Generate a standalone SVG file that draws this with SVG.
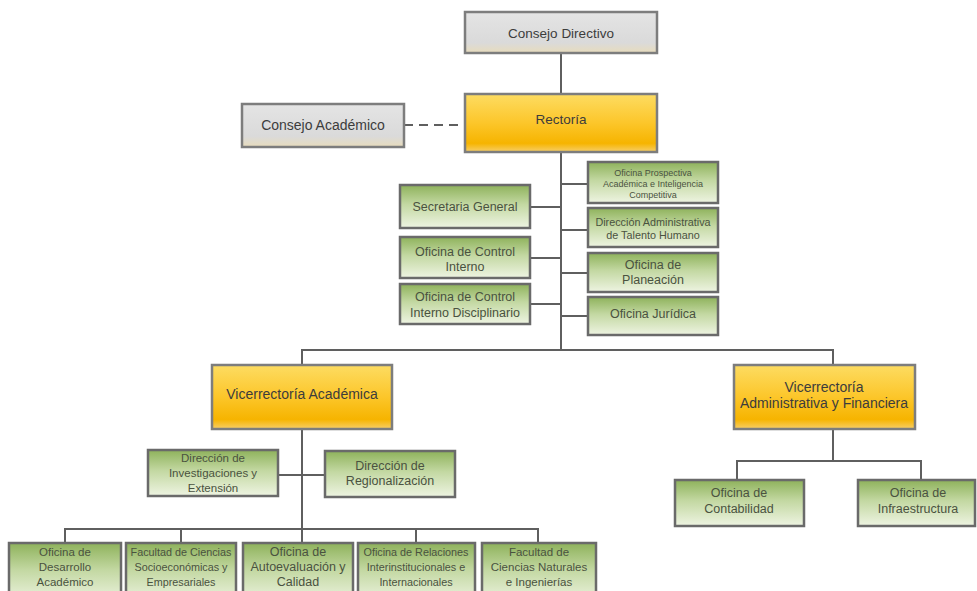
<svg xmlns="http://www.w3.org/2000/svg" width="977" height="591" viewBox="0 0 977 591">
<defs>
<linearGradient id="gGray" x1="0" y1="0" x2="0" y2="1">
<stop offset="0" stop-color="#e4e4e4"/><stop offset="0.75" stop-color="#dadada"/><stop offset="1" stop-color="#e8dcbc"/>
</linearGradient>
<linearGradient id="gYellow" x1="0" y1="0" x2="0" y2="1">
<stop offset="0" stop-color="#fddc62"/><stop offset="0.5" stop-color="#fcc62a"/><stop offset="0.85" stop-color="#f6b400"/><stop offset="1" stop-color="#f8cf6a"/>
</linearGradient>
<linearGradient id="gGreen" x1="0" y1="0" x2="0" y2="1">
<stop offset="0" stop-color="#8eb25b"/><stop offset="0.45" stop-color="#c3d8a2"/><stop offset="1" stop-color="#eef4e2"/>
</linearGradient>
</defs>
<style>
.gray{fill:url(#gGray);stroke:#7d7d7d;stroke-width:2.5}
.yel{fill:url(#gYellow);stroke:#7d7d7d;stroke-width:2.5}
.grn{fill:url(#gGreen);stroke:#6a6a6a;stroke-width:2.5}
text{font-family:"Liberation Sans",Arial,sans-serif;text-anchor:middle;fill:#3c3c3c}
.t14{font-size:14px}
.t13{font-size:13.5px}
.t12{font-size:12.5px}
.t11{font-size:11.5px}
.t10{font-size:10.8px}
.t9{font-size:9px}
.gt{fill:#4a5240}
#connectors path{fill:none;stroke:#5f5f5f;stroke-width:2}
#connectors .dash{stroke-dasharray:9 6}
</style>
<rect width="977" height="591" fill="#ffffff"/>
<g id="connectors">
<path d="M561 53V94"/>
<path class="dash" d="M404 125H465"/>
<path d="M561 152V350"/>
<path d="M561 184H588M561 230H588M561 273H588M561 316H588"/>
<path d="M530 207H561M530 258H561M530 304H561"/>
<path d="M302 365V350H833V365"/>
<path d="M302 429V543"/>
<path d="M278 475H325"/>
<path d="M65 543V529H538V543M181 529V543M416 529V543"/>
<path d="M833 429V461"/>
<path d="M737 480V461H921V480"/>
</g>
<g id="consejo-directivo"><rect class="gray" x="465" y="12" width="192" height="41"/><text class="t13" x="561" y="38">Consejo Directivo</text></g>
<g id="rectoria"><rect class="yel" x="465" y="94" width="192" height="58"/><text class="t13" x="561" y="124">Rectoría</text></g>
<g id="consejo-academico"><rect class="gray" x="242" y="104" width="162" height="43"/><text class="t14" x="323" y="130">Consejo Académico</text></g>
<g id="oficina-prospectiva"><rect class="grn" x="588" y="162" width="130" height="41"/><text class="t9 gt" x="653" y="176">Oficina Prospectiva</text><text class="t9 gt" x="653" y="187">Académica e Inteligencia</text><text class="t9 gt" x="653" y="198">Competitiva</text></g>
<g id="direccion-talento"><rect class="grn" x="588" y="208" width="130" height="39"/><text class="t10 gt" x="653" y="226">Dirección Administrativa</text><text class="t10 gt" x="653" y="239">de Talento Humano</text></g>
<g id="oficina-planeacion"><rect class="grn" x="588" y="253" width="130" height="39"/><text class="t12 gt" x="653" y="269">Oficina de</text><text class="t12 gt" x="653" y="284">Planeación</text></g>
<g id="oficina-juridica"><rect class="grn" x="588" y="297" width="130" height="38"/><text class="t12 gt" x="653" y="318">Oficina Jurídica</text></g>
<g id="secretaria-general"><rect class="grn" x="400" y="185" width="130" height="43"/><text class="t12 gt" x="465" y="211">Secretaria General</text></g>
<g id="control-interno"><rect class="grn" x="400" y="237" width="130" height="41"/><text class="t12 gt" x="465" y="256">Oficina de Control</text><text class="t12 gt" x="465" y="271">Interno</text></g>
<g id="control-disciplinario"><rect class="grn" x="400" y="284" width="130" height="40"/><text class="t12 gt" x="465" y="301">Oficina de Control</text><text class="t12 gt" x="465" y="317">Interno Disciplinario</text></g>
<g id="vicerrectoria-academica"><rect class="yel" x="212" y="365" width="180" height="64"/><text class="t14" x="302" y="399">Vicerrectoría Académica</text></g>
<g id="vicerrectoria-administrativa"><rect class="yel" x="734" y="365" width="181" height="64"/><text class="t14" x="824" y="392">Vicerrectoría</text><text class="t14" x="824" y="408">Administrativa y Financiera</text></g>
<g id="direccion-investigaciones"><rect class="grn" x="148" y="450" width="130" height="46"/><text class="t11 gt" x="213" y="462">Dirección de</text><text class="t11 gt" x="213" y="477">Investigaciones y</text><text class="t11 gt" x="213" y="492">Extensión</text></g>
<g id="direccion-regionalizacion"><rect class="grn" x="325" y="451" width="130" height="46"/><text class="t12 gt" x="390" y="470">Dirección de</text><text class="t12 gt" x="390" y="485">Regionalización</text></g>
<g id="oficina-contabilidad"><rect class="grn" x="675" y="480" width="129" height="46"/><text class="t12 gt" x="739" y="497">Oficina de</text><text class="t12 gt" x="739" y="513">Contabilidad</text></g>
<g id="oficina-infraestructura"><rect class="grn" x="858" y="480" width="117" height="46"/><text class="t12 gt" x="918" y="497">Oficina de</text><text class="t12 gt" x="918" y="513">Infraestructura</text></g>
<g id="desarrollo-academico"><rect class="grn" x="9" y="543" width="112" height="60"/><text class="t11 gt" x="65" y="556">Oficina de</text><text class="t11 gt" x="65" y="571">Desarrollo</text><text class="t11 gt" x="65" y="586">Académico</text></g>
<g id="facultad-socioeconomicas"><rect class="grn" x="126" y="543" width="110" height="60"/><text class="t10 gt" x="181" y="556">Facultad de Ciencias</text><text class="t10 gt" x="181" y="571">Socioeconómicas y</text><text class="t10 gt" x="181" y="586">Empresariales</text></g>
<g id="autoevaluacion"><rect class="grn" x="243" y="543" width="110" height="60"/><text class="t12 gt" x="298" y="556">Oficina de</text><text class="t12 gt" x="298" y="571">Autoevaluación y</text><text class="t12 gt" x="298" y="586">Calidad</text></g>
<g id="relaciones"><rect class="grn" x="358" y="543" width="117" height="60"/><text class="t10 gt" x="416" y="556">Oficina de Relaciones</text><text class="t10 gt" x="416" y="571">Interinstitucionales e</text><text class="t10 gt" x="416" y="586">Internacionales</text></g>
<g id="facultad-naturales"><rect class="grn" x="482" y="543" width="114" height="60"/><text class="t11 gt" x="539" y="556">Facultad de</text><text class="t11 gt" x="539" y="571">Ciencias Naturales</text><text class="t11 gt" x="539" y="586">e Ingenierías</text></g>
</svg>
